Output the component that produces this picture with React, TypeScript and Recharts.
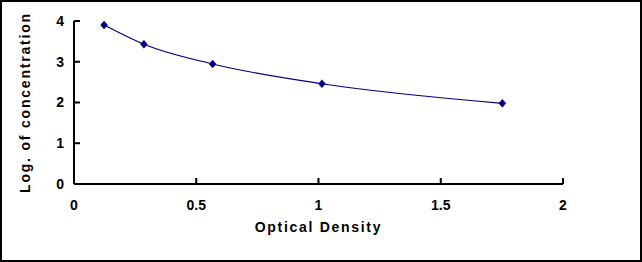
import React from "react";
import { LineChart, Line, XAxis, YAxis } from "recharts";

const opticalDensity = [0.123, 0.286, 0.567, 1.014, 1.752];
const logConcentration = [3.9, 3.43, 2.945, 2.46, 1.98];
const xTicks = [0, 0.5, 1, 1.5, 2];
const yTicks = [0, 1, 2, 3, 4];
const xTitle = "Optical Density";
const yTitle = "Log. of concentration";

const data = opticalDensity.map((od, i) => ({ od, logc: logConcentration[i] }));

const FONT = "Arial, 'Liberation Sans', sans-serif";
const NAVY = "#000080";

const Diamond = (props: any) => {
  const { cx, cy, index } = props;
  if (cx == null || cy == null) return null;
  return (
    <polygon
      key={`d-${index}`}
      points={`${cx},${cy - 4} ${cx + 3.5},${cy} ${cx},${cy + 4} ${cx - 3.5},${cy}`}
      fill={NAVY}
      stroke={NAVY}
      strokeWidth={0.5}
    />
  );
};

const XTitle = (props: any) => {
  const vb = props.viewBox || {};
  return (
    <text
      x={vb.x + vb.width / 2}
      y={vb.y + 48}
      textAnchor="middle"
      fontFamily={FONT}
      fontWeight="bold"
      fontSize={14}
      fill="#000"
      style={{ letterSpacing: "1.7px" }}
    >
      {xTitle}
    </text>
  );
};

const YTitle = (props: any) => {
  const vb = props.viewBox || {};
  const cx = 28;
  const cy = vb.y + vb.height / 2;
  return (
    <text
      x={cx}
      y={cy}
      textAnchor="middle"
      transform={`rotate(-90, ${cx}, ${cy})`}
      fontFamily={FONT}
      fontWeight="bold"
      fontSize={14}
      fill="#000"
      style={{ letterSpacing: "1.8px" }}
    >
      {yTitle}
    </text>
  );
};

const tickStyle = {
  fontFamily: FONT,
  fontWeight: "bold" as const,
  fontSize: 14,
  fill: "#000",
};

export default function App() {
  return (
    <div
      style={{
        position: "absolute",
        left: 0,
        top: 0,
        width: 642,
        height: 262,
        boxSizing: "border-box",
        border: "2px solid #000",
        background: "#fff",
      }}
    >
      <LineChart
        width={638}
        height={258}
        data={data}
        margin={{ top: 19, right: 77, left: 0, bottom: 0 }}
      >
        <XAxis
          dataKey="od"
          type="number"
          domain={[0, 2]}
          ticks={xTicks}
          height={76}
          axisLine={{ stroke: "#000", strokeWidth: 2 }}
          tickLine={{ stroke: "#000", strokeWidth: 2 }}
          tickSize={-6}
          tickMargin={22}
          tick={tickStyle}
          tickFormatter={(v: number) => String(v)}
          label={<XTitle />}
        />
        <YAxis
          type="number"
          domain={[0, 4]}
          ticks={yTicks}
          width={72}
          axisLine={{ stroke: "#000", strokeWidth: 2 }}
          tickLine={{ stroke: "#000", strokeWidth: 2 }}
          tickSize={-6}
          tickMargin={16}
          tick={tickStyle}
          label={<YTitle />}
        />
        <Line
          dataKey="logc"
          type="monotone"
          stroke={NAVY}
          strokeWidth={1.2}
          dot={<Diamond />}
          activeDot={false}
          isAnimationActive={false}
        />
      </LineChart>
    </div>
  );
}
